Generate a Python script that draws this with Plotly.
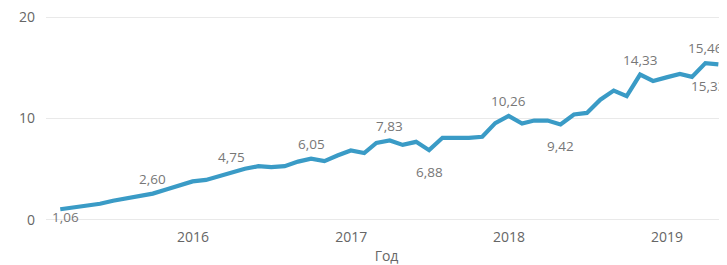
import plotly.graph_objects as go

dates = ["2015-02-28", "2015-03-31", "2015-04-30", "2015-05-31", "2015-06-30", "2015-07-31",
         "2015-08-31", "2015-09-30", "2015-10-31", "2015-11-30", "2015-12-31",
         "2016-01-31", "2016-02-29", "2016-03-31", "2016-04-30", "2016-05-31", "2016-06-30",
         "2016-07-31", "2016-08-31", "2016-09-30", "2016-10-31", "2016-11-30", "2016-12-31",
         "2017-01-31", "2017-02-28", "2017-03-31", "2017-04-30", "2017-05-31", "2017-06-30",
         "2017-07-31", "2017-08-31", "2017-09-30", "2017-10-31", "2017-11-30", "2017-12-31",
         "2018-01-31", "2018-02-28", "2018-03-31", "2018-04-30", "2018-05-31", "2018-06-30",
         "2018-07-31", "2018-08-31", "2018-09-30", "2018-10-31", "2018-11-30", "2018-12-31",
         "2019-01-31", "2019-02-28", "2019-03-31", "2019-04-30"]
values = [1.06, 1.25, 1.40, 1.60, 1.90, 2.15, 2.40, 2.60, 3.00, 3.35, 3.80,
          3.95, 4.30, 4.75, 5.05, 5.30, 5.20, 5.30, 5.75, 6.05, 5.80, 6.35, 6.85,
          6.60, 7.60, 7.83, 7.40, 7.70, 6.88, 8.10, 8.05, 8.10, 8.20, 9.55, 10.26,
          9.50, 9.80, 9.80, 9.42, 10.40, 10.55, 11.85, 12.75, 12.20, 14.33, 13.70, 14.05,
          14.40, 14.10, 15.46, 15.33]

# labelled points: index -> side
label_points = {0: "below_first", 7: "above", 13: "above", 19: "above", 25: "above",
                28: "below", 34: "above", 38: "below", 44: "above", 49: "above", 50: "below_last"}

tick_vals = ["2016-01-01", "2017-01-01", "2018-01-01", "2019-01-01"]
tick_text = ["2016", "2017", "2018", "2019"]
y_ticks = [0, 10, 20]
x_title = "Год"

FONT = "Open Sans"
LINE_COLOR = "#3a9bc6"

fig = go.Figure()
fig.add_trace(go.Scatter(x=dates, y=values, mode="lines",
                         line=dict(color=LINE_COLOR, width=4.2),
                         hoverinfo="skip"))

offsets = {"above": (0, 15), "below": (0, -22), "below_first": (5, -8), "below_last": (-10, -22)}
for i, side in label_points.items():
    txt = f"{values[i]:.2f}".replace(".", ",")
    xs, ys = offsets[side]
    fig.add_annotation(x=dates[i], y=values[i], text=txt, showarrow=False,
                       xshift=xs, yshift=ys,
                       font=dict(family=FONT, size=13.5, color="#777777"))

fig.update_layout(
    width=719, height=257,
    margin=dict(l=38, r=0, t=8, b=44),
    paper_bgcolor="white", plot_bgcolor="white",
    showlegend=False,
    font=dict(family=FONT, color="#666666"),
)
fig.update_xaxes(
    range=["2015-01-26", "2019-05-20"],
    tickvals=tick_vals, ticktext=tick_text,
    showgrid=False, zeroline=False, showline=False, ticks="",
    tickfont=dict(family=FONT, size=14, color="#666666"),
    ticklabelstandoff=6,
    title=dict(text=x_title, font=dict(family=FONT, size=14, color="#666666"), standoff=9),
)
fig.update_yaxes(
    range=[-0.1, 20.1], tickvals=y_ticks,
    showgrid=True, gridcolor="#e9e9e9", gridwidth=1,
    zeroline=False, showline=False, ticks="",
    tickfont=dict(family=FONT, size=14, color="#666666"),
    ticklabelstandoff=10, ticklabeloverflow="allow",
)

fig.write_html("out.html")
